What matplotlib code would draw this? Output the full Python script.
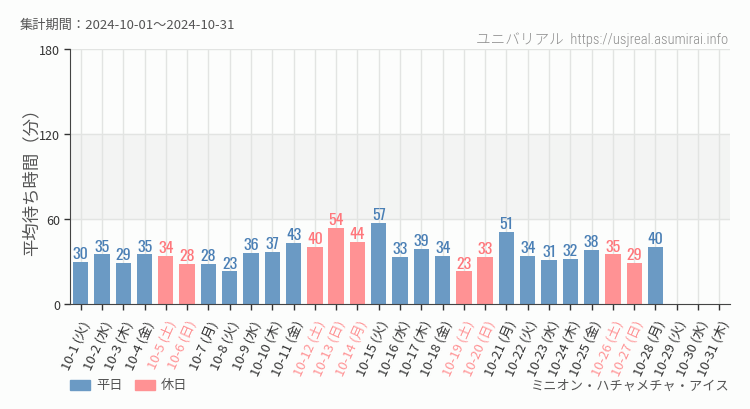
import matplotlib
matplotlib.use('Agg')
import matplotlib.pyplot as plt
from matplotlib.patches import Rectangle

plt.rcParams['font.family'] = ['Noto Sans CJK JP', 'DejaVu Sans']

days = [f"10-{d}" for d in range(1, 32)]
weekdays = (['火', '水', '木', '金', '土', '日', '月'] * 5)[:31]
holidays = [5, 6, 12, 13, 14, 19, 20, 26, 27]
wait = [30, 35, 29, 35, 34, 28, 28, 23, 36, 37, 43, 40, 54, 44, 57,
        33, 39, 34, 23, 33, 51, 34, 31, 32, 38, 35, 29, 40]
yticks = [0, 60, 120, 180]

BLUE = '#6b9ac4'
PINK = '#ff9294'
BLUE_TXT = '#4a7fb5'
PINK_TXT = '#ff777c'
GRID = '#e2e4e2'

fig = plt.figure(figsize=(7.5, 4.1), dpi=100, facecolor='#fcfdfc')
ax = fig.add_axes([70 / 750, 105 / 410, 660 / 750, 255 / 410])
ax.set_facecolor('#fcfdfc')

# 60-120 band and grid
ax.axhspan(60, 120, color='#f3f4f3', zorder=0)
for y in yticks[1:]:
    ax.axhline(y, color=GRID, linewidth=1, zorder=1)
for i in range(len(days)):
    ax.axvline(i, color=GRID, linewidth=1, zorder=1)

for i, v in enumerate(wait):
    hol = (i + 1) in holidays
    ax.bar(i, v, width=0.72, color=PINK if hol else BLUE, zorder=2)
    ax.text(i, v + 0.6, str(v), ha='center', va='bottom', fontsize=11.5,
            color=PINK_TXT if hol else BLUE_TXT, family='Oswald', weight=300)

ax.set_xlim(-0.5, len(days) - 0.5)
ax.set_ylim(0, 180)
ax.set_yticks(yticks)
ax.set_yticklabels([str(t) for t in yticks], fontsize=9, color='#333333')
ax.set_xticks(range(len(days)))
labels = ax.set_xticklabels([f"{d} ({w})" for d, w in zip(days, weekdays)],
                            rotation=66, ha='right', rotation_mode='anchor',
                            fontsize=9.5)
for i, lab in enumerate(labels):
    lab.set_color(PINK if (i + 1) in holidays else '#333333')
ax.tick_params(axis='both', length=4, color='#333333', width=1, pad=3)
ax.tick_params(axis='x', pad=6)
for s in ['top', 'right']:
    ax.spines[s].set_visible(False)
for s in ['left', 'bottom']:
    ax.spines[s].set_color('#444444')
ax.set_ylabel('平均待ち時間（分）', fontsize=12.5, color='#555555')
ax.yaxis.set_label_coords(-30 / 660, 0.5)

fig.text(20 / 750, 1 - 25 / 410, '集計期間：2024-10-01～2024-10-31',
         fontsize=9.5, color='#555555', va='center')
fig.text(728 / 750, 1 - 40 / 410, 'ユニバリアル  https://usjreal.asumirai.info',
         fontsize=10.5, color='#8c8c8c', va='center', ha='right', weight=300,
         family=['Roboto Condensed', 'Noto Sans CJK JP'])
fig.text(730 / 750, 1 - 386 / 410, 'ミニオン・ハチャメチャ・アイス',
         fontsize=9.5, color='#555555', va='center', ha='right')

# legend
fig.patches.append(Rectangle((70 / 750, 1 - 391 / 410), 20 / 750, 10 / 410,
                             transform=fig.transFigure, color=BLUE))
fig.text(96 / 750, 1 - 386 / 410, '平日', fontsize=9.5, color='#555555', va='center')
fig.patches.append(Rectangle((135 / 750, 1 - 391 / 410), 20 / 750, 10 / 410,
                             transform=fig.transFigure, color=PINK))
fig.text(161 / 750, 1 - 386 / 410, '休日', fontsize=9.5, color='#555555', va='center')

fig.savefig('out.png', dpi=100, facecolor=fig.get_facecolor())
